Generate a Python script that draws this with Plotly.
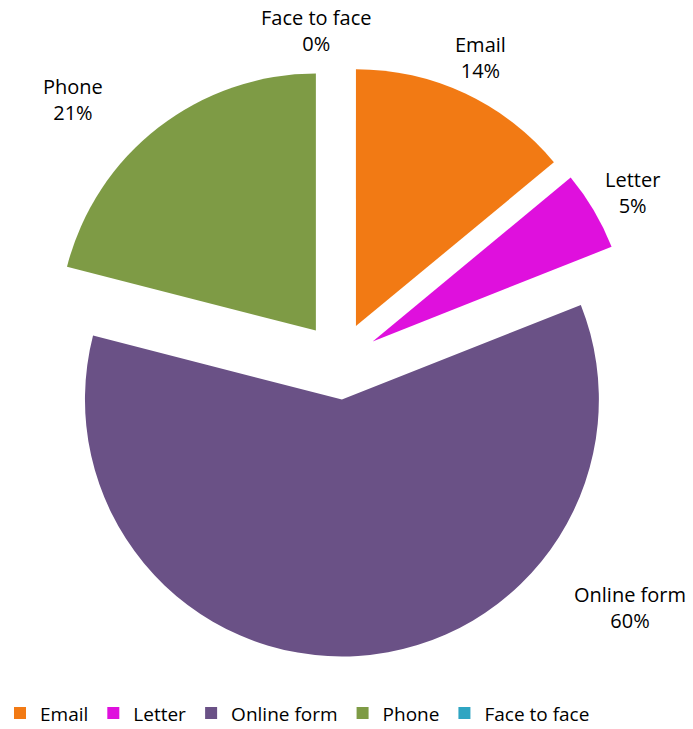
import plotly.graph_objects as go

# Contact channel shares (percent)
channels = ["Email", "Letter", "Online form", "Phone", "Face to face"]
shares = [14, 5, 60, 21, 0]
colors = ["#F27A14", "#DF10DD", "#6A5186", "#7E9B45", "#2FA5C2"]

# Where each "name / percent" caption sits, in paper coordinates
label_x = [0.738, 0.995, 0.992, 0.049, 0.460]
label_y = [1.012, 0.785, 0.083, 0.941, 1.059]

total = sum(shares)

fig = go.Figure(
    go.Pie(
        labels=channels,
        values=shares,
        sort=False,
        direction="clockwise",
        rotation=0,
        pull=[0.15] * len(channels),
        marker=dict(colors=colors, line=dict(width=0)),
        textposition="none",
        hoverinfo="label+percent",
    )
)

for name, value, lx, ly in zip(channels, shares, label_x, label_y):
    fig.add_annotation(
        x=lx,
        y=ly,
        xref="paper",
        yref="paper",
        text=f"{name}<br>{round(value / total * 100)}%",
        showarrow=False,
        xanchor="center",
        yanchor="middle",
        align="center",
        font=dict(family="Open Sans", size=20, color="#000000"),
    )

fig.update_layout(
    width=693,
    height=729,
    margin=dict(l=44, r=58, t=65, b=72, autoexpand=False),
    paper_bgcolor="white",
    plot_bgcolor="white",
    font=dict(family="Open Sans", color="#000000"),
    showlegend=True,
    legend=dict(
        orientation="h",
        xref="container",
        x=0.0,
        xanchor="left",
        y=-0.095,
        yanchor="middle",
        font=dict(family="Open Sans", size=19, color="#000000"),
        itemsizing="constant",
        traceorder="normal",
    ),
)

fig.write_html("out.html")
